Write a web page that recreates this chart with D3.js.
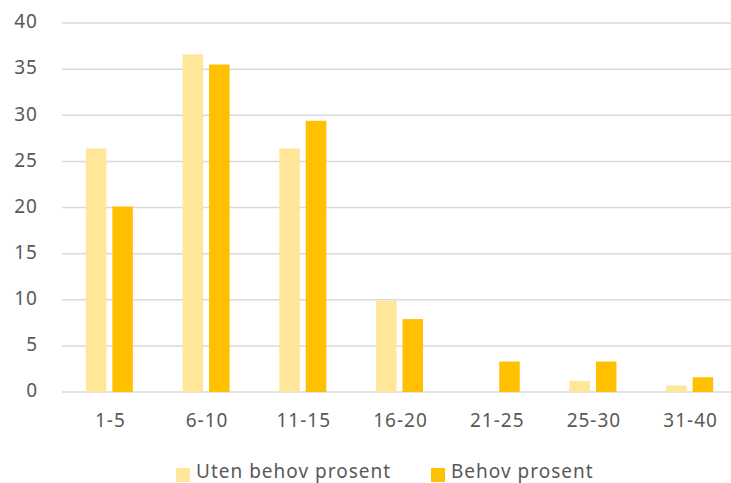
<!DOCTYPE html>
<html>
<head>
<meta charset="utf-8">
<script src="https://cdn.jsdelivr.net/npm/d3@7"></script>
<style>
  html, body { margin: 0; padding: 0; background: #fff; }
  svg text { font-family: "Noto Sans", "Open Sans", sans-serif; fill: #595959; letter-spacing: 1px; }
</style>
</head>
<body>
<svg id="chart" width="731" height="483"></svg>
<script>
// Age groups and the two percentage series
const categories = ["1-5", "6-10", "11-15", "16-20", "21-25", "25-30", "31-40"];
const utenBehov = [26.4, 36.6, 26.4, 9.9, 0, 1.2, 0.7];
const behov = [20.1, 35.5, 29.4, 7.9, 3.3, 3.3, 1.6];
const seriesNames = ["Uten behov prosent", "Behov prosent"];
const seriesColors = ["#FFE699", "#FFC000"];
const yTicks = [0, 5, 10, 15, 20, 25, 30, 35, 40];

const svg = d3.select("#chart");
const margin = { left: 62, right: -8, top: 23, bottom: 91 };
const W = 731, H = 483;
const fontSize = "19px";

const x = d3.scaleBand()
  .domain(categories)
  .range([margin.left, W - margin.right])
  .paddingInner(0)
  .paddingOuter(0);

const y = d3.scaleLinear()
  .domain([0, 40])
  .range([H - margin.bottom, margin.top]);

// Horizontal gridlines
svg.append("g")
  .selectAll("line")
  .data(yTicks)
  .join("line")
  .attr("x1", margin.left)
  .attr("x2", W)
  .attr("y1", d => y(d))
  .attr("y2", d => y(d))
  .attr("stroke", "#d9d9d9")
  .attr("stroke-width", 1.5);

// Y axis labels
const yAxis = d3.axisLeft(y).tickValues(yTicks).tickSize(0).tickPadding(0);
const yg = svg.append("g")
  .attr("transform", `translate(${margin.left - 24},-2)`)
  .call(yAxis);
yg.select(".domain").remove();
yg.selectAll("text")
  .style("font-size", fontSize)
  .attr("dy", "0.36em")
  .attr("fill", "#595959");

// Bars, two per group
const barW = 20.5, gap = 6;
const offsets = [-(gap / 2 + barW), gap / 2];
const seriesData = [utenBehov, behov];

seriesData.forEach((vals, si) => {
  svg.append("g")
    .selectAll("rect")
    .data(vals.map((v, i) => ({ cat: categories[i], v })))
    .join("rect")
    .attr("x", d => x(d.cat) + x.bandwidth() / 2 + offsets[si] - 1)
    .attr("width", barW)
    .attr("y", d => y(d.v))
    .attr("height", d => y(0) - y(d.v))
    .attr("fill", seriesColors[si]);
});

// X axis labels
const xAxis = d3.axisBottom(x).tickSize(0).tickPadding(0);
const xg = svg.append("g")
  .attr("transform", `translate(0,${y(0) + 28})`)
  .call(xAxis);
xg.select(".domain").remove();
xg.selectAll("text")
  .style("font-size", fontSize)
  .attr("dy", "0.36em")
  .attr("fill", "#595959");

// Legend
const legendItems = [
  { name: seriesNames[0], color: seriesColors[0], x: 176 },
  { name: seriesNames[1], color: seriesColors[1], x: 431 }
];
const lg = svg.append("g");
legendItems.forEach(it => {
  lg.append("rect")
    .attr("x", it.x).attr("y", 468)
    .attr("width", 14).attr("height", 14)
    .attr("fill", it.color);
  lg.append("text")
    .attr("x", it.x + 20).attr("y", 478)
    .style("font-size", fontSize)
    .text(it.name);
});
</script>
</body>
</html>
